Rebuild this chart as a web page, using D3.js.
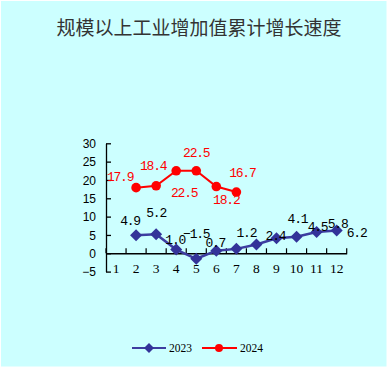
<!DOCTYPE html>
<html><head><meta charset="utf-8">
<script src="https://cdn.jsdelivr.net/npm/d3@7"></script>
<style>html,body{margin:0;padding:0;background:#fff;}svg{display:block;}</style>
</head><body>
<script>
const title = "规模以上工业增加值累计增长速度";
const months = [1,2,3,4,5,6,7,8,9,10,11,12];
const v2023 = [null,4.9,5.2,1.0,-1.5,0.7,1.2,2.4,4.1,4.5,5.8,6.2];
const v2024 = [null,17.9,18.4,22.5,22.5,18.2,16.7,null,null,null,null,null];
const yTicks = [-5,0,5,10,15,20,25,30];
const seriesNames = ["2023","2024"];
// label placement offsets (layout only)
const off2023 = [null,[-6,-10],[0,-17.5],[-1,-6],[0,-20.5],[-1,-4],[10,-12],[19,-4.5],[21,-15],[21,-6],[21,-4],[20,6]];
const off2024 = [null,[-16,-7],[-3,-16],[8,26],[0,-14],[10,17],[6,-15]];

const W=388,H=368;
const svg=d3.select("body").append("svg").attr("width",W).attr("height",H);
svg.append("rect").attr("x",1).attr("y",1).attr("width",385.5).attr("height",365.5).attr("fill","#CCFFFF");

svg.append("text").attr("x",199).attr("y",35).attr("text-anchor","middle")
  .attr("font-family","'Noto Sans CJK SC'").attr("font-size",19).attr("fill","#333").text(title);

const x=d3.scaleBand().domain(months).range([106,346.7]);
const y=d3.scaleLinear().domain([-5,30]).range([271.6,143.3]);

// y axis
const ya=svg.append("g").attr("transform","translate(106,0)")
  .call(d3.axisLeft(y).tickValues(yTicks).tickSizeInner(-5).tickSizeOuter(0).tickPadding(10).tickFormat(d=>d<0?"\u2212"+Math.abs(d):d));
ya.selectAll("path,line").attr("stroke","#000").attr("stroke-width",1.3);
ya.selectAll("text").attr("font-family","'Liberation Sans'").attr("font-size",12).attr("fill","#000").attr("dy","0.36em");

// x axis at zero
const y0=y(0);
const xa=svg.append("g").attr("transform",`translate(0,${y0})`)
  .call(d3.axisBottom(x).tickSize(0).tickPadding(0));
xa.select("path").attr("stroke","#000").attr("stroke-width",1.3);
xa.selectAll("text").attr("font-family","'Liberation Serif'").attr("font-size",13.5).attr("fill","#000").attr("y",20).attr("dy","0");
const bounds=months.map(m=>x(m)).concat([x(12)+x.bandwidth()]);
svg.append("g").selectAll("line").data(bounds).join("line")
  .attr("x1",d=>d).attr("x2",d=>d).attr("y1",y0-5).attr("y2",y0).attr("stroke","#000").attr("stroke-width",1.2);

const cx=m=>x(m)+x.bandwidth()/2;
const line=d3.line().defined(d=>d.v!=null).x(d=>cx(d.m)).y(d=>y(d.v));
const d23=months.map((m,i)=>({m,v:v2023[i],o:off2023[i]}));
const d24=months.map((m,i)=>({m,v:v2024[i],o:off2024[i]}));

svg.append("path").datum(d23).attr("d",line).attr("fill","none").attr("stroke","#3D3DA0").attr("stroke-width",2.5);
svg.append("g").selectAll("path").data(d23.filter(d=>d.v!=null)).join("path")
  .attr("d","M0,-6L6,0L0,6L-6,0Z").attr("transform",d=>`translate(${cx(d.m)},${y(d.v)})`).attr("fill","#333399");
svg.append("path").datum(d24).attr("d",line).attr("fill","none").attr("stroke","#FF0000").attr("stroke-width",2);
svg.append("g").selectAll("circle").data(d24.filter(d=>d.v!=null)).join("circle")
  .attr("cx",d=>cx(d.m)).attr("cy",d=>y(d.v)).attr("r",4.8).attr("fill","#FF0000");

function labels(data,color){
  svg.append("g").selectAll("text").data(data.filter(d=>d.v!=null)).join("text")
    .attr("x",d=>cx(d.m)+d.o[0]).attr("y",d=>y(d.v)+d.o[1]).attr("text-anchor","middle")
    .attr("font-family","'Liberation Mono'").attr("font-size",13).attr("letter-spacing","-1.2px")
    .attr("fill",color).text(d=>d.v<0?"\u2212"+Math.abs(d.v).toFixed(1):d.v.toFixed(1));
}
labels(d23,"#000");
labels(d24,"#FF0000");

// legend
const lg=svg.append("g");
lg.append("line").attr("x1",132).attr("x2",166).attr("y1",348).attr("y2",348).attr("stroke","#3D3DA0").attr("stroke-width",2);
lg.append("path").attr("d","M0,-5L5,0L0,5L-5,0Z").attr("transform","translate(149,348)").attr("fill","#333399");
lg.append("text").attr("x",169).attr("y",352).attr("font-family","'Liberation Serif'").attr("font-size",11.5).attr("fill","#000").text(seriesNames[0]);
lg.append("line").attr("x1",202).attr("x2",237).attr("y1",348).attr("y2",348).attr("stroke","#FF0000").attr("stroke-width",2);
lg.append("circle").attr("cx",219).attr("cy",348).attr("r",4).attr("fill","#FF0000");
lg.append("text").attr("x",240).attr("y",352).attr("font-family","'Liberation Serif'").attr("font-size",11.5).attr("fill","#000").text(seriesNames[1]);
</script>
</body></html>
